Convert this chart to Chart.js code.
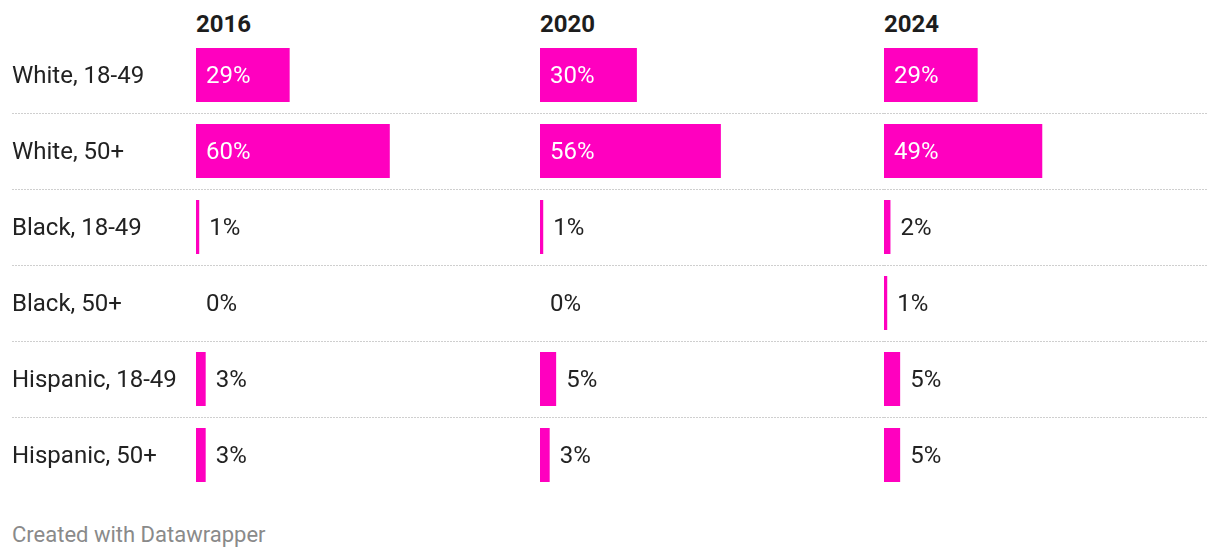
<!DOCTYPE html>
<html lang="en">
  <head>
    <meta charset="UTF-8" />
    <title>Vote share by group</title>
    <script src="https://cdn.jsdelivr.net/npm/chart.js@4.4.0/dist/chart.umd.min.js"></script>
    <style>
      body {
        margin: 0;
        background: white;
        font-family: Roboto, "Noto Sans", sans-serif;
      }
      .wrap {
        position: relative;
        width: 1220px;
        height: 558px;
      }
      .year {
        position: absolute;
        top: 9px;
        font-size: 24px;
        line-height: 30px;
        font-weight: bold;
        color: #1d1d1d;
      }
      .panel {
        position: absolute;
        top: 37px;
        height: 456px;
      }
      .footer {
        position: absolute;
        left: 12px;
        top: 520px;
        font-size: 22px;
        line-height: 30px;
        color: #8a8a8a;
      }
    </style>
  </head>
  <body>
    <div class="wrap">
      <div class="year" style="left: 196px">2016</div>
      <div class="year" style="left: 540px">2020</div>
      <div class="year" style="left: 884px">2024</div>
      <div class="panel" style="left: 0; width: 540px"><canvas id="c2016"></canvas></div>
      <div class="panel" style="left: 540px; width: 344px"><canvas id="c2020"></canvas></div>
      <div class="panel" style="left: 884px; width: 336px"><canvas id="c2024"></canvas></div>
      <div class="footer">Created with Datawrapper</div>
    </div>

    <script>
      const groups = ["White, 18-49", "White, 50+", "Black, 18-49", "Black, 50+", "Hispanic, 18-49", "Hispanic, 50+"];
      const years = ["2016", "2020", "2024"];
      const share2016 = [29, 60, 1, 0, 3, 3];
      const share2020 = [30, 56, 1, 0, 5, 3];
      const share2024 = [29, 49, 2, 1, 5, 5];

      const pink = "#ff00bf";
      const textColor = "#222";
      const font = "24px Roboto, 'Noto Sans', sans-serif";

      // dotted row separators, row labels (first panel only) and value labels
      const rowPlugin = {
        id: "rows",
        afterDraw(chart, args, opts) {
          const ctx = chart.ctx;
          const y = chart.scales.y;
          const x = chart.scales.x;
          ctx.save();
          ctx.strokeStyle = "#cfcfcf";
          ctx.lineWidth = 1;
          ctx.setLineDash([2, 1]);
          for (let i = 0; i < groups.length - 1; i++) {
            const yy = Math.round((y.getPixelForValue(i) + y.getPixelForValue(i + 1)) / 2) + 0.5;
            ctx.beginPath();
            ctx.moveTo(opts.x0, yy);
            ctx.lineTo(chart.width - opts.right, yy);
            ctx.stroke();
          }
          ctx.setLineDash([]);

          ctx.font = font;
          ctx.textBaseline = "middle";
          ctx.textAlign = "left";
          if (opts.labels) {
            ctx.fillStyle = textColor;
            groups.forEach((g, i) => ctx.fillText(g, opts.x0, y.getPixelForValue(i) + 1.5));
          }
          const data = chart.data.datasets[0].data;
          data.forEach((v, i) => {
            const yy = y.getPixelForValue(i) + 1.5;
            const base = x.getPixelForValue(0);
            const end = x.getPixelForValue(v);
            if (v >= 20) {
              ctx.fillStyle = "white";
              ctx.fillText(v + "%", base + 10, yy);
            } else {
              ctx.fillStyle = textColor;
              ctx.fillText(v + "%", Math.max(end, base) + 10, yy);
            }
          });
          ctx.restore();
        },
      };

      function makeChart(id, values, showLabels, padRight, lineRight) {
        const ctx = document.getElementById(id).getContext("2d");
        return new Chart(ctx, {
          type: "bar",
          data: {
            labels: groups,
            datasets: [
              {
                data: values,
                backgroundColor: pink,
                borderWidth: 0,
                categoryPercentage: 1,
                barPercentage: 0.71,
              },
            ],
          },
          plugins: [rowPlugin],
          options: {
            indexAxis: "y",
            responsive: true,
            maintainAspectRatio: false,
            animation: false,
            layout: {
              padding: { left: showLabels ? 196 : 0, right: padRight, top: 0, bottom: 0 },
            },
            scales: {
              x: { display: false, min: 0, max: 100 },
              y: { display: false },
            },
            plugins: {
              legend: { display: false },
              tooltip: { enabled: false },
              rows: { x0: showLabels ? 12 : 0, right: lineRight, labels: showLabels },
            },
          },
        });
      }

      makeChart("c2016", share2016, true, 21, 0);
      makeChart("c2020", share2020, false, 21, 0);
      makeChart("c2024", share2024, false, 13, 12);
    </script>
  </body>
</html>
